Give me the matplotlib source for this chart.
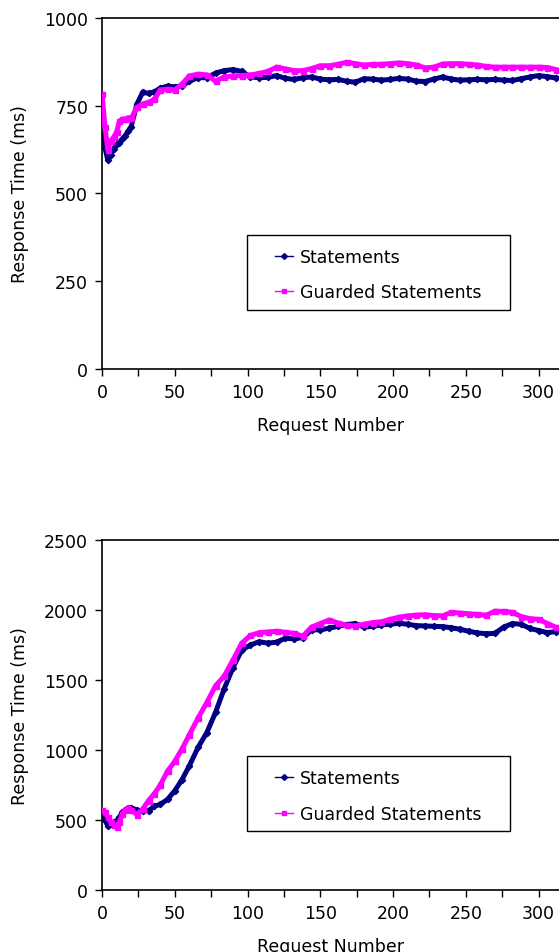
import numpy as np
import matplotlib
matplotlib.use("Agg")
from matplotlib import pyplot as plt
from matplotlib.lines import Line2D
from matplotlib.patches import Rectangle
from matplotlib.ticker import MultipleLocator, FuncFormatter

plt.rcParams['font.family'] = 'DejaVu Sans'
plt.rcParams.update({'font.size': 12.5})

req = [0, 2, 4, 6, 8, 10, 12, 14, 16, 18, 20, 24, 28, 32, 36, 40, 45, 50, 55, 60,
       66, 72, 78, 84, 90, 96, 102, 108, 114, 120, 126, 132, 138, 144, 150, 156,
       162, 168, 174, 180, 186, 192, 198, 204, 210, 216, 222, 228, 234, 240, 246,
       252, 258, 264, 270, 276, 282, 288, 294, 300, 306, 312]

# top chart
top_stmt = [670, 630, 595, 610, 628, 640, 645, 655, 665, 678, 690, 755, 789, 785, 790, 800, 806, 804, 806, 820,
            830, 830, 843, 850, 853, 848, 832, 830, 831, 836, 828, 825, 830, 832, 826, 824,
            825, 820, 817, 827, 826, 823, 825, 828, 826, 820, 819, 826, 832, 826, 823,
            824, 825, 824, 825, 823, 822, 827, 832, 836, 833, 829]
top_guard = [783, 690, 625, 650, 660, 675, 706, 712, 712, 716, 714, 745, 755, 760, 768, 795, 797, 795, 812, 835,
             840, 838, 820, 832, 835, 836, 838, 842, 848, 860, 855, 850, 850, 856, 864, 864,
             868, 874, 870, 866, 868, 868, 870, 872, 870, 866, 858, 860, 869, 870, 870,
             868, 866, 862, 860, 860, 860, 860, 860, 860, 859, 853]

# bottom chart
bot_stmt = [531, 500, 459, 470, 485, 495, 520, 555, 575, 585, 590, 570, 566, 568, 600, 612, 648, 710, 790, 888,
            1020, 1125, 1270, 1440, 1590, 1715, 1752, 1775, 1765, 1772, 1800, 1795, 1805, 1860, 1860, 1872,
            1885, 1898, 1905, 1880, 1885, 1895, 1900, 1907, 1900, 1890, 1888, 1885, 1883, 1875, 1864,
            1850, 1838, 1832, 1835, 1880, 1905, 1900, 1870, 1855, 1840, 1848]
bot_guard = [573, 560, 520, 485, 465, 450, 490, 543, 575, 590, 570, 540, 580, 640, 690, 750, 850, 920, 1010, 1110,
             1230, 1340, 1460, 1530, 1645, 1765, 1820, 1840, 1845, 1850, 1842, 1835, 1815, 1880, 1905, 1930,
             1910, 1893, 1888, 1900, 1912, 1918, 1935, 1950, 1960, 1965, 1968, 1962, 1960, 1985, 1980,
             1975, 1970, 1965, 1993, 1992, 1985, 1955, 1940, 1935, 1905, 1878]

labels = ["Statements", "Guarded Statements"]
colors = ["#000080", "#FF00FF"]
markers = ["D", "s"]


def draw_panel(ax, stmt, guard, ymax, ystep):
  ax.plot(req, stmt, color=colors[0], lw=3.6, marker=markers[0], ms=3.2, zorder=2)
  ax.plot(req, guard, color=colors[1], lw=3.6, marker=markers[1], ms=3.6, zorder=3)
  ax.set_xlim(0, 314)
  ax.set_ylim(0, ymax)
  ax.xaxis.set_major_locator(MultipleLocator(25))
  ax.xaxis.set_major_formatter(FuncFormatter(lambda v, p: f"{int(v)}" if int(v) % 50 == 0 else ""))
  ax.yaxis.set_major_locator(MultipleLocator(ystep))
  ax.tick_params(direction='out', length=5, width=1, pad=5)
  ax.spines['right'].set_visible(False)
  for s in ['left', 'top', 'bottom']:
    ax.spines[s].set_linewidth(1.2)
  ax.set_xlabel("Request Number", labelpad=11)
  ax.set_ylabel("Response Time (ms)", labelpad=11)
  handles = [Line2D([], [], color=colors[0], lw=1, marker=markers[0], ms=3),
             Line2D([], [], color=colors[1], lw=1, marker=markers[1], ms=3.5)]
  ax.legend(handles, labels, loc='center left', bbox_to_anchor=(0.36, 0.269), frameon=False,
            borderpad=0, handlelength=1.0, handletextpad=0.4, labelspacing=1.0)
  ax.add_patch(Rectangle((0.317, 0.168), 0.576, 0.214, transform=ax.transAxes,
                         fill=False, edgecolor='black', lw=1, zorder=5))


fig = plt.figure(figsize=(5.59, 9.53), dpi=100)
ax1 = fig.add_axes([0.1825, 0.612, 0.8175, 0.368])
ax2 = fig.add_axes([0.1825, 0.065, 0.8175, 0.367])
draw_panel(ax1, top_stmt, top_guard, 1000, 250)
draw_panel(ax2, bot_stmt, bot_guard, 2500, 500)

plt.savefig("out.png", dpi=100)
